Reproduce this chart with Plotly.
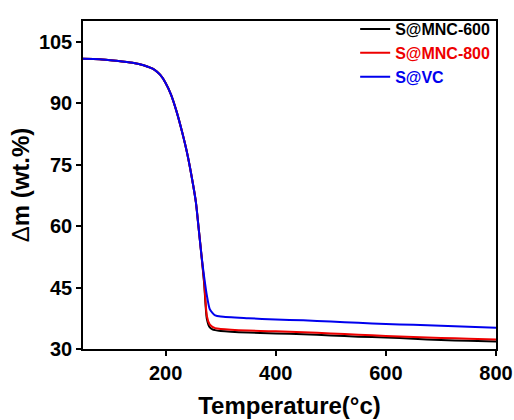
import plotly.graph_objects as go

temperature = [50, 80, 110, 140, 160, 180, 190, 200, 210, 220, 230, 240, 250, 255, 260, 265, 270,
               275, 280, 285, 290, 300, 350, 400, 450, 500, 550, 600, 650, 700, 750, 800]

common_head = [100.8, 100.7, 100.3, 99.8, 99.2, 98.1, 96.9, 94.9, 92.0, 87.9, 82.9, 77.2, 70.0,
               65.8, 59.5, 53.0]

mnc600 = common_head + [46.0, 37.3, 35.3, 34.8, 34.6, 34.4, 34.0, 33.8, 33.6, 33.3, 33.0, 32.8,
                        32.5, 32.2, 32.0, 31.8]
mnc800 = common_head + [46.5, 38.0, 36.0, 35.4, 35.1, 34.9, 34.5, 34.3, 34.1, 33.8, 33.5, 33.2,
                        32.9, 32.7, 32.5, 32.3]
vc = common_head + [47.6, 43.0, 39.8, 38.8, 38.2, 37.9, 37.5, 37.2, 37.0, 36.7, 36.4, 36.1,
                    35.9, 35.7, 35.4, 35.2]

series_names = ["S@MNC-600", "S@MNC-800", "S@VC"]
series_colors = ["#000000", "#ee0000", "#0000ee"]
series_values = [mnc600, mnc800, vc]

x_ticks = [200, 400, 600, 800]
y_ticks = [30, 45, 60, 75, 90, 105]

FONT = "Arial, Liberation Sans, sans-serif"

fig = go.Figure()
for name, color, vals in zip(series_names, series_colors, series_values):
    fig.add_trace(go.Scatter(
        x=temperature, y=vals, mode="lines",
        line=dict(color=color, width=2, shape="spline", smoothing=0.7),
        name=f"<span style='color:{color}'>{name}</span>",
    ))

axis_common = dict(
    showline=True, linecolor="black", linewidth=1.5, mirror=True,
    ticks="outside", ticklen=5, tickwidth=1.5, tickcolor="black",
    showgrid=False, zeroline=False, automargin=False,
    tickfont=dict(family=FONT, size=20, color="black", weight="bold"),
)

fig.update_layout(
    width=514, height=420,
    margin=dict(l=83, r=18, t=14, b=71),
    plot_bgcolor="white", paper_bgcolor="white",
    showlegend=True,
    legend=dict(
        x=0.659, y=1.027, xanchor="left", yanchor="top",
        bgcolor="rgba(0,0,0,0)", borderwidth=0,
        font=dict(family=FONT, size=16, color="black", weight="bold"),
        tracegroupgap=0, itemwidth=30,
    ),
    xaxis=dict(
        range=[50, 800], tickvals=x_ticks,
        title=dict(text="Temperature(°c)", standoff=14,
                   font=dict(family=FONT, size=24, color="black", weight="bold")),
        **axis_common,
    ),
    yaxis=dict(
        range=[30, 110], tickvals=y_ticks,
        title=dict(text="<span style='font-weight:normal'>Δ</span>m (wt.%)", standoff=2,
                   font=dict(family=FONT, size=24, color="black", weight="bold")),
        **axis_common,
    ),
)

fig.write_html("out.html")
